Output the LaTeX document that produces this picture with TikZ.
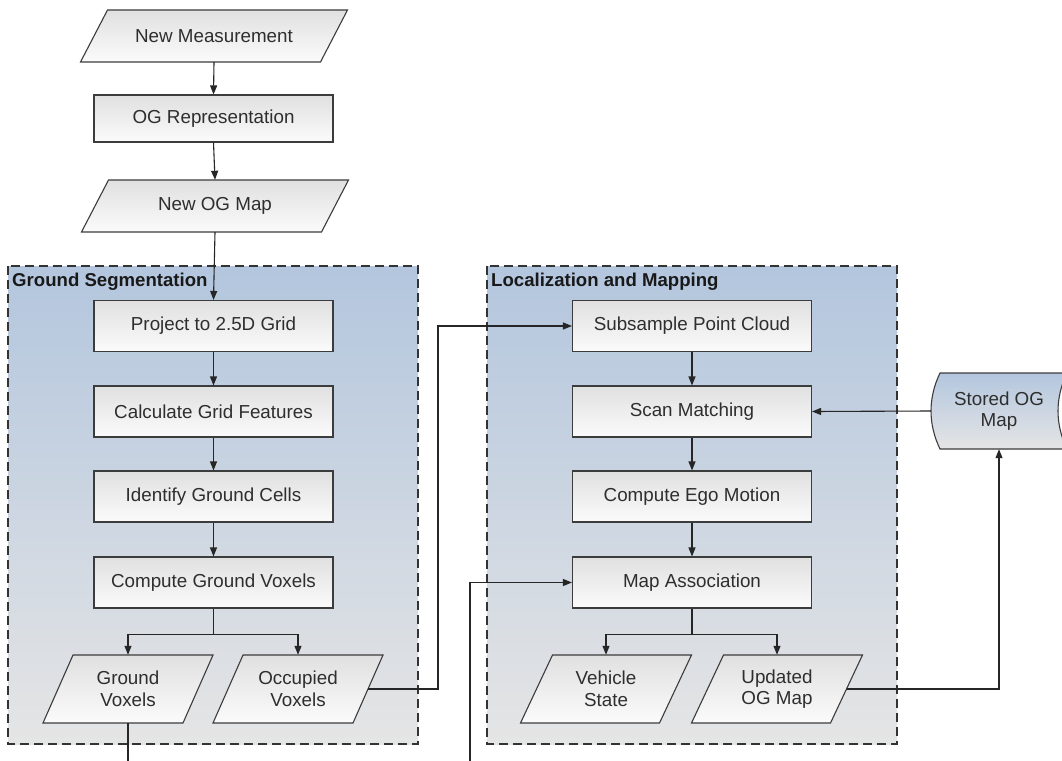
\documentclass[tikz,border=0pt]{standalone}
\usepackage{fontspec}
\setmainfont{Liberation Sans}
\usetikzlibrary{arrows.meta,calc}
\definecolor{boxtop}{HTML}{E0E0E0}
\definecolor{boxbot}{HTML}{FBFBFB}
\definecolor{conttop}{HTML}{B3C6DE}
\definecolor{contbot}{HTML}{E5E5E5}
\definecolor{edgecol}{HTML}{3C3C3C}
\definecolor{txtcol}{HTML}{2E2E2E}
\pgfdeclarelayer{bg}
\pgfsetlayers{bg,main}
\newcommand\nodefont{\fontsize{18.8}{21.5}\selectfont}
\newcommand\titlefont{\fontsize{18.6}{21}\selectfont\bfseries}
\tikzset{
  procbox/.style={draw=edgecol, line width=1.1pt, top color=boxtop, bottom color=boxbot,
    minimum width=239pt, minimum height=51pt, inner sep=0pt, text=txtcol, font=\nodefont, align=center},
  paratext/.style={draw=none, inner sep=0pt, text=txtcol, font=\nodefont, align=center},
  parashape/.style={draw=edgecol, line width=1.1pt, top color=boxtop, bottom color=boxbot},
  storeshape/.style={draw=edgecol, line width=1.1pt, top color=conttop, bottom color=contbot},
  contbox/.style={draw=black!80, line width=1.1pt, dash pattern=on 9pt off 5pt, top color=conttop, bottom color=contbot},
  conttitle/.style={font=\titlefont, anchor=north west, inner sep=0pt, text=black!90},
  conn/.style={draw=black!85, line width=1.1pt},
  arr/.style={conn, -{Triangle[length=9pt,width=7pt]}},
}
% name, cx, cy, w, h, slant, text
\newcommand\mypara[7]{%
  \path[parashape] ({#2-#4/2-#6/2},{#3+#5/2}) -- ({#2+#4/2-#6/2},{#3+#5/2})
     -- ({#2+#4/2+#6/2},{#3-#5/2}) -- ({#2-#4/2+#6/2},{#3-#5/2}) -- cycle;
  \node[paratext, minimum width=#4pt, minimum height=#5pt] (#1) at (#2,#3) {#7};}
\begin{document}
\begin{tikzpicture}[x=1pt,y=-1pt]
\useasboundingbox (0,0) rectangle (1062,760);
\fill[white] (0,0) rectangle (1062,760);

% containers
\path[contbox] (8,266) rectangle (418,744);
\path[contbox] (487,266) rectangle (897,744);
\node[conttitle] (gstitle) at (12,273) {Ground Segmentation};
\node[conttitle] (lmtitle) at (491,273) {Localization and Mapping};

% top chain
\mypara{nm}{214}{36}{240}{52}{27}{New Measurement}
\node[procbox, minimum height=47pt] (ogr) at (213.5,118.5) {OG Representation};
\mypara{nogm}{215}{206}{240}{52}{27}{New OG Map}

% ground segmentation
\node[procbox] (proj)  at (213.5,326)   {Project to 2.5D Grid};
\node[procbox] (calc)  at (213.5,411.5) {Calculate Grid Features};
\node[procbox] (ident) at (213.5,496.5) {Identify Ground Cells};
\node[procbox] (cgv)   at (213.5,582.5) {Compute Ground Voxels};
\mypara{gv}{128}{689}{140}{68}{30}{Ground\\Voxels}
\mypara{ov}{298}{689}{140}{68}{30}{Occupied\\Voxels}

% localization and mapping
\node[procbox] (sub)  at (692,326)   {Subsample Point Cloud};
\node[procbox] (scan) at (692,411.5) {Scan Matching};
\node[procbox] (ego)  at (692,496.5) {Compute Ego Motion};
\node[procbox] (ma)   at (692,582.5) {Map Association};
\mypara{vs}{606}{689}{139}{68}{32}{Vehicle\\State}
\mypara{uog}{777}{689}{139}{68}{32}{Updated\\OG Map}

% stored map
\path[storeshape] (940,373) -- (1067,373) .. controls (1055,398) and (1055,424) .. (1067,449)
   -- (940,449) .. controls (928,424) and (928,398) .. (940,373) -- cycle;
\node[paratext, minimum width=136pt, minimum height=76pt] (st) at (999,411) {Stored OG\\Map};

% helper coordinates
\coordinate (jov) at (438,0);
\coordinate (gvout) at (128,762);
\coordinate (main) at (470,762);

% connectors
\draw[arr] (nm.south) -- (ogr.north);
\draw[arr] (ogr.south) -- (nogm.north);
\draw[arr] (nogm.south) -- (proj.north);
\draw[arr] (proj) -- (calc);
\draw[arr] (calc) -- (ident);
\draw[arr] (ident) -- (cgv);
\draw[arr] (cgv.south) -- ++(0,26) -| (gv.north);
\draw[arr] (cgv.south) -- ++(0,26) -| (ov.north);
\draw[conn] (gv.south) -- (gvout);
\draw[arr] (ov.east) -- (ov.east -| jov) -- (jov |- sub.west) -- (sub.west);
\draw[arr] (sub) -- (scan);
\draw[arr] (scan) -- (ego);
\draw[arr] (ego) -- (ma);
\draw[arr] (main) |- (ma.west);
\draw[arr] (ma.south) -- ++(0,26) -| (vs.north);
\draw[arr] (ma.south) -- ++(0,26) -| (uog.north);
\draw[arr] (uog.east) -| (st.south);
\draw[arr] (st.west) -- (scan.east);
\end{tikzpicture}
\end{document}
